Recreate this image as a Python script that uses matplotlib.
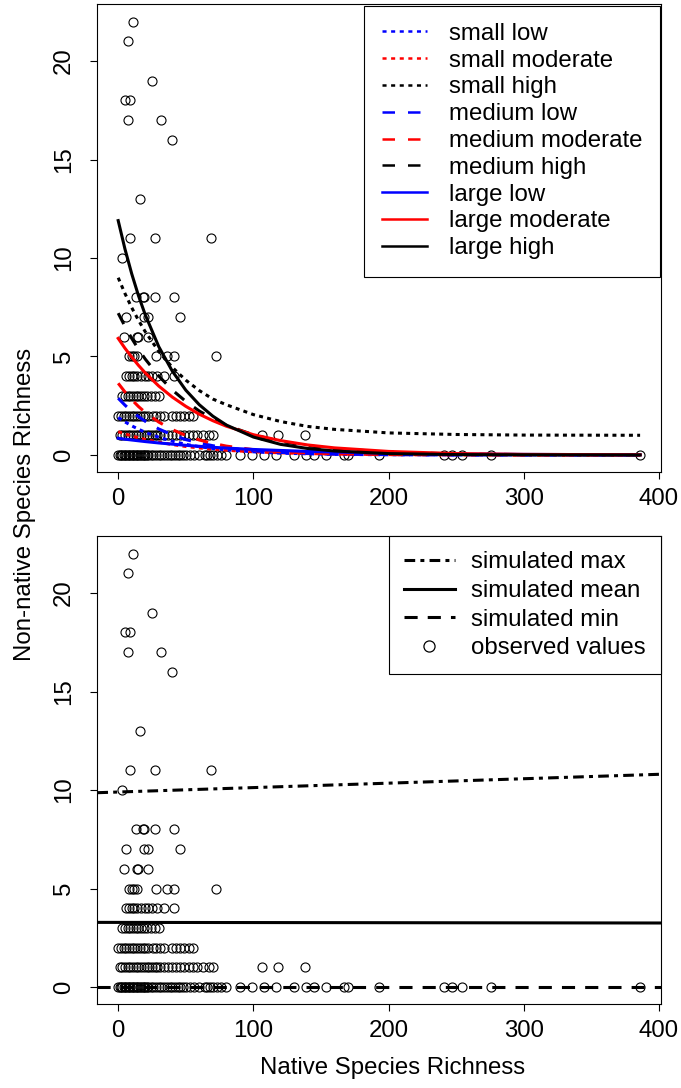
import matplotlib
matplotlib.use('Agg')
import matplotlib.pyplot as plt
from matplotlib.lines import Line2D

plt.rcParams['font.family'] = ['Liberation Sans', 'DejaVu Sans']

# observed plots, grouped by non-native richness; native richness values per group
nonnative_levels = [22, 21, 19, 18, 17, 16, 13, 11, 10, 8, 7, 6, 5, 4, 3, 2, 1, 0]
native_by_level = [
    [11],
    [7],
    [25],
    [5, 9],
    [7, 32],
    [40],
    [16],
    [9, 27, 69],
    [3],
    [13, 18, 19, 27, 41],
    [6, 19, 22, 46],
    [4, 14, 15, 22],
    [8, 10, 12, 14, 28, 36, 41, 72],
    [6, 8, 10, 12, 14, 17, 20, 22, 25, 29, 34, 41],
    [3, 5, 7, 9, 11, 13, 15, 17, 19, 21, 24, 27, 30],
    [0, 2, 4, 6, 8, 10, 12, 14, 16, 18, 20, 22, 26, 28, 31, 34, 40, 43, 46, 49, 52, 55],
    [1, 3, 5, 7, 9, 11, 13, 15, 17, 19, 21, 23, 25, 27, 29, 31, 34, 37, 40, 43, 46,
     49, 52, 55, 58, 63, 67, 70, 106, 118, 138],
    [0, 1, 2, 3, 4, 5, 6, 7, 8, 9, 10, 11, 12, 13, 14, 15, 16, 17, 18, 19, 20, 21, 22,
     24, 26, 28, 30, 32, 34, 36, 38, 40, 42, 44, 46, 48, 50, 53, 56, 60, 64, 66, 68,
     70, 73, 76, 80, 90, 99, 108, 117, 130, 139, 145, 154, 167, 170, 193, 241, 247,
     254, 276, 386],
]

# fitted curves
curve_x = [0, 5, 10, 15, 20, 30, 40, 50, 60, 70, 80, 100, 120, 140, 160, 200, 250, 300, 386]
small_low = [1.9, 1.68, 1.48, 1.31, 1.15, 0.90, 0.70, 0.54, 0.42, 0.33, 0.26, 0.16, 0.09, 0.06, 0.03, 0.01, 0, 0, 0]
small_moderate = [1.18, 1.07, 0.97, 0.87, 0.79, 0.65, 0.53, 0.43, 0.36, 0.29, 0.24, 0.16, 0.11, 0.07, 0.05, 0.02, 0.01, 0, 0]
small_high = [9.0, 8.2, 7.48, 6.84, 6.26, 5.26, 4.45, 3.8, 3.27, 2.84, 2.55, 2.05, 1.7, 1.45, 1.3, 1.12, 1.04, 1.01, 1.0]
medium_low = [2.88, 2.53, 2.22, 1.95, 1.71, 1.32, 1.02, 0.78, 0.61, 0.47, 0.36, 0.21, 0.13, 0.08, 0.04, 0.02, 0, 0, 0]
medium_moderate = [3.64, 3.2, 2.81, 2.46, 2.16, 1.67, 1.29, 0.99, 0.76, 0.59, 0.45, 0.27, 0.16, 0.1, 0.06, 0.02, 0.01, 0, 0]
medium_high = [7.2, 6.53, 5.92, 5.37, 4.87, 4.01, 3.3, 2.72, 2.23, 1.84, 1.51, 1.02, 0.69, 0.47, 0.32, 0.15, 0.05, 0.02, 0]
large_low = [0.85, 0.8, 0.76, 0.72, 0.68, 0.61, 0.55, 0.49, 0.44, 0.39, 0.35, 0.28, 0.23, 0.18, 0.15, 0.09, 0.05, 0.03, 0.01]
large_moderate = [5.92, 5.42, 4.97, 4.55, 4.17, 3.5, 2.94, 2.47, 2.07, 1.74, 1.46, 1.03, 0.73, 0.51, 0.36, 0.18, 0.07, 0.03, 0.01]
large_high = [11.9, 10.46, 9.2, 8.09, 7.12, 5.5, 4.26, 3.29, 2.55, 1.97, 1.52, 0.91, 0.54, 0.33, 0.2, 0.07, 0.02, 0.01, 0]

# simulated lines (bottom panel): intercept, slope
sim_max = (9.9, 0.00225)
sim_mean = (3.28, -0.000075)
sim_min = (0.0, 0.0)

native = [x for xs in native_by_level for x in xs]
nonnative = [lv for lv, xs in zip(nonnative_levels, native_by_level) for _ in xs]

FS = 17.3
DOT = (1.3, 1.4)
DASH = (4, 4)
LW = 2.2

fig = plt.figure(figsize=(6.81, 10.88), dpi=100)
ax1 = fig.add_axes([0.1429, 0.5659, 0.8277, 0.4301])
ax2 = fig.add_axes([0.1429, 0.0769, 0.8277, 0.4301])

for ax in (ax1, ax2):
    ax.plot(native, nonnative, 'o', mfc='none', mec='black', ms=6.5, mew=0.8, zorder=2)
    ax.set_xlim(-15.44, 401.44)
    ax.set_ylim(-0.88, 22.88)
    ax.set_xticks([0, 100, 200, 300, 400])
    ax.set_yticks([0, 5, 10, 15, 20])
    ax.tick_params(direction='out', length=5, width=0.8, labelsize=FS, pad=6)
    ax.tick_params(axis='y', labelrotation=90, pad=11)
    for lab in ax.get_yticklabels():
        lab.set_va('center')
    for sp in ax.spines.values():
        sp.set_linewidth(0.8)

curves = [
    ('small low', small_low, 'blue', DOT),
    ('small moderate', small_moderate, 'red', DOT),
    ('small high', small_high, 'black', DOT),
    ('medium low', medium_low, 'blue', DASH),
    ('medium moderate', medium_moderate, 'red', DASH),
    ('medium high', medium_high, 'black', DASH),
    ('large low', large_low, 'blue', None),
    ('large moderate', large_moderate, 'red', None),
    ('large high', large_high, 'black', None),
]
handles = []
for name, ys, col, dash in curves:
    ln, = ax1.plot(curve_x, ys, color=col, lw=LW, zorder=3)
    hd = Line2D([], [], color=col, lw=1.8)
    if dash is not None:
        ln.set_dashes(dash)
        ln.set_dash_capstyle('butt')
        hd.set_dashes((dash[0] * 1.25, dash[1] * 1.3))
        hd.set_dash_capstyle('butt')
    handles.append((hd, name))

leg1 = ax1.legend([h for h, _ in handles], [n for _, n in handles], loc='upper right',
                  fontsize=FS, frameon=True, fancybox=False, framealpha=1, edgecolor='black',
                  borderaxespad=0.05, handlelength=1.9, handletextpad=0.9, labelspacing=0.2,
                  borderpad=0.72)
leg1.get_frame().set_linewidth(0.8)

l_max = ax2.axline((0, sim_max[0]), slope=sim_max[1], color='black', lw=LW,
                   dashes=(3.5, 1.7, 1.3, 1.7), dash_capstyle='butt', zorder=3)
l_mean = ax2.axline((0, sim_mean[0]), slope=sim_mean[1], color='black', lw=LW, zorder=3)
l_min = ax2.axline((0, sim_min[0]), slope=sim_min[1], color='black', lw=LW,
                   dashes=(4.3, 3.3), dash_capstyle='butt', zorder=3)
h_max = Line2D([], [], color='black', lw=LW, dashes=(3.5, 1.7, 1.3, 1.7), dash_capstyle='butt')
h_mean = Line2D([], [], color='black', lw=LW)
h_min = Line2D([], [], color='black', lw=LW, dashes=(4.3, 3.3), dash_capstyle='butt')
h_obs = Line2D([], [], ls='none', marker='o', mfc='none', mec='black', ms=8, mew=0.9)
leg2 = ax2.legend([h_max, h_mean, h_min, h_obs],
                  ['simulated max', 'simulated mean', 'simulated min', 'observed values'],
                  loc='upper right', fontsize=FS, frameon=True, fancybox=False, framealpha=1,
                  edgecolor='black', borderaxespad=0.0, handlelength=2.1, handletextpad=0.7,
                  labelspacing=0.28, borderpad=0.62)
leg2.get_frame().set_linewidth(0.8)

fig.text(25 / 681, 1 - 504 / 1088, 'Non-native Species Richness', rotation=90,
         ha='center', va='center', fontsize=FS)
fig.text(393 / 681, 1 - 1068 / 1088, 'Native Species Richness',
         ha='center', va='center', fontsize=FS)

fig.savefig('out.png', dpi=100)
